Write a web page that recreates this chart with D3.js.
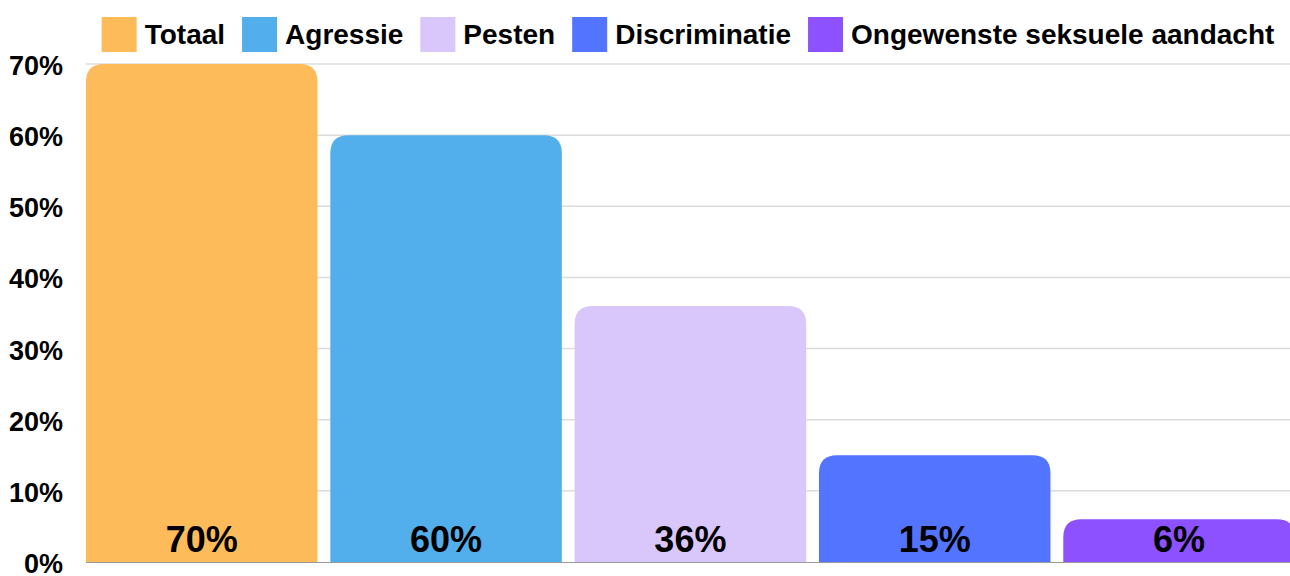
<!DOCTYPE html>
<html>
<head>
<meta charset="utf-8">
<script src="https://cdn.jsdelivr.net/npm/d3@7"></script>
<style>
  html, body { margin: 0; padding: 0; background: #fff; }
  svg { display: block; font-family: "Liberation Sans", Arial, sans-serif; }
</style>
</head>
<body>
<svg id="chart" width="1290" height="576"></svg>
<script>
const categories = ["Totaal", "Agressie", "Pesten", "Discriminatie", "Ongewenste seksuele aandacht"];
const values = [70, 60, 36, 15, 6];
const colors = ["#FDBB5A", "#53AEEC", "#D9C6FB", "#5274FF", "#8D51FF"];
const yTicks = [0, 10, 20, 30, 40, 50, 60, 70];

const svg = d3.select("#chart");
const plotLeft = 86, plotRight = 1290, plotTop = 64, plotBottom = 562;

const x = d3.scaleBand().domain(categories).range([plotLeft, plotLeft + 1208.8]).paddingInner(0.0524).paddingOuter(0);
const y = d3.scaleLinear().domain([0, 70]).range([plotBottom, plotTop]);

// gridlines
svg.append("g").selectAll("line").data(yTicks.filter(d => d > 0)).join("line")
  .attr("x1", plotLeft).attr("x2", plotRight)
  .attr("y1", d => y(d)).attr("y2", d => y(d))
  .attr("stroke", "#dcdcdc").attr("stroke-width", 1.5);

// y labels
svg.append("g").selectAll("text").data(yTicks).join("text")
  .attr("x", 63).attr("y", d => y(d) + 11)
  .attr("text-anchor", "end")
  .attr("font-size", 27).attr("font-weight", "bold").attr("fill", "#000")
  .text(d => d + "%");

// bars with rounded top corners
function barPath(x0, w, yTop, yBot, r) {
  r = Math.min(r, (yBot - yTop), w / 2);
  return `M${x0},${yBot}V${yTop + r}Q${x0},${yTop} ${x0 + r},${yTop}H${x0 + w - r}Q${x0 + w},${yTop} ${x0 + w},${yTop + r}V${yBot}Z`;
}
const data = categories.map((c, i) => ({ c, v: values[i], col: colors[i] }));
svg.append("g").selectAll("path").data(data).join("path")
  .attr("d", d => barPath(x(d.c), x.bandwidth(), y(d.v), y(0), 18))
  .attr("fill", d => d.col);

// baseline
svg.append("line").attr("x1", plotLeft).attr("x2", plotRight)
  .attr("y1", y(0) + 0.5).attr("y2", y(0) + 0.5)
  .attr("stroke", "#999").attr("stroke-width", 1);

// value labels
svg.append("g").selectAll("text").data(data).join("text")
  .attr("x", d => x(d.c) + x.bandwidth() / 2)
  .attr("y", y(0) - 10)
  .attr("text-anchor", "middle")
  .attr("font-size", 36).attr("font-weight", "bold").attr("fill", "#000")
  .text(d => d.v + "%");

// legend
const lg = svg.append("g");
const sq = 35, gapSqText = 8, gapItem = 17;
let cx = 0;
data.forEach(d => {
  const g = lg.append("g");
  g.append("rect").attr("x", 0).attr("y", 0).attr("width", sq).attr("height", sq).attr("fill", d.col);
  const t = g.append("text").attr("x", sq + gapSqText).attr("y", 27)
    .attr("font-size", 28).attr("font-weight", "bold").attr("fill", "#000").text(d.c);
  const tw = t.node().getComputedTextLength();
  g.attr("transform", `translate(${cx},0)`);
  cx += sq + gapSqText + tw + gapItem;
});
const total = cx - gapItem;
lg.attr("transform", `translate(${(plotLeft + plotRight) / 2 - total / 2},17)`);
</script>
</body>
</html>
